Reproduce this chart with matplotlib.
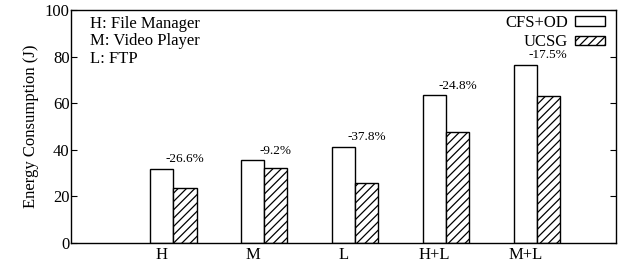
import matplotlib
matplotlib.use("Agg")
import matplotlib.pyplot as plt
import numpy as np

categories = ["H", "M", "L", "H+L", "M+L"]
cfs_od = [31.8, 35.6, 41.3, 63.5, 76.4]
ucsg = [23.4, 32.3, 25.7, 47.8, 63.0]
reductions = ["-26.6%", "-9.2%", "-37.8%", "-24.8%", "-17.5%"]
notes = ["H: File Manager", "M: Video Player", "L: FTP"]

plt.rcParams['font.family'] = ['Liberation Serif', 'DejaVu Serif']
plt.rcParams['hatch.linewidth'] = 0.9

fig = plt.figure(figsize=(6.24, 2.67), dpi=100)
ax = fig.add_axes([71/624, 1-243/267, (616-71)/624, (243-10)/267])

x = np.arange(len(categories))
w = 0.255
ax.bar(x, cfs_od, w, color='white', edgecolor='black', linewidth=1.0, label='CFS+OD')
ax.bar(x + w, ucsg, w, color='white', edgecolor='black', linewidth=1.0, hatch='////', label='UCSG')

for i, (v, r) in enumerate(zip(cfs_od, reductions)):
    ax.text(i + w, v + 1.5, r, ha='center', va='bottom', fontsize=9.5)

ax.set_xlim(-1, 5)
ax.set_ylim(0, 100)
ax.set_xticks(x)
ax.set_xticklabels(categories, fontsize=12)
ax.set_yticks([0, 20, 40, 60, 80, 100])
ax.tick_params(axis='y', direction='in', length=4, labelsize=12, right=True, pad=1)
ax.tick_params(axis='x', length=0, pad=3)
ax.set_ylabel("Energy Consumption (J)", fontsize=12, labelpad=4)
for s in ax.spines.values():
    s.set_linewidth(1.0)

ax.text(0.035, 0.975, "\n".join(notes), transform=ax.transAxes, ha='left', va='top',
        fontsize=12, linespacing=1.12)

leg = ax.legend(loc='upper right', bbox_to_anchor=(0.989, 1.0), frameon=False,
                markerfirst=False, fontsize=12,
                handlelength=1.8, handleheight=0.5, borderaxespad=0.0, borderpad=0.3,
                labelspacing=0.2, handletextpad=0.4)

fig.savefig("out.png", dpi=100)
